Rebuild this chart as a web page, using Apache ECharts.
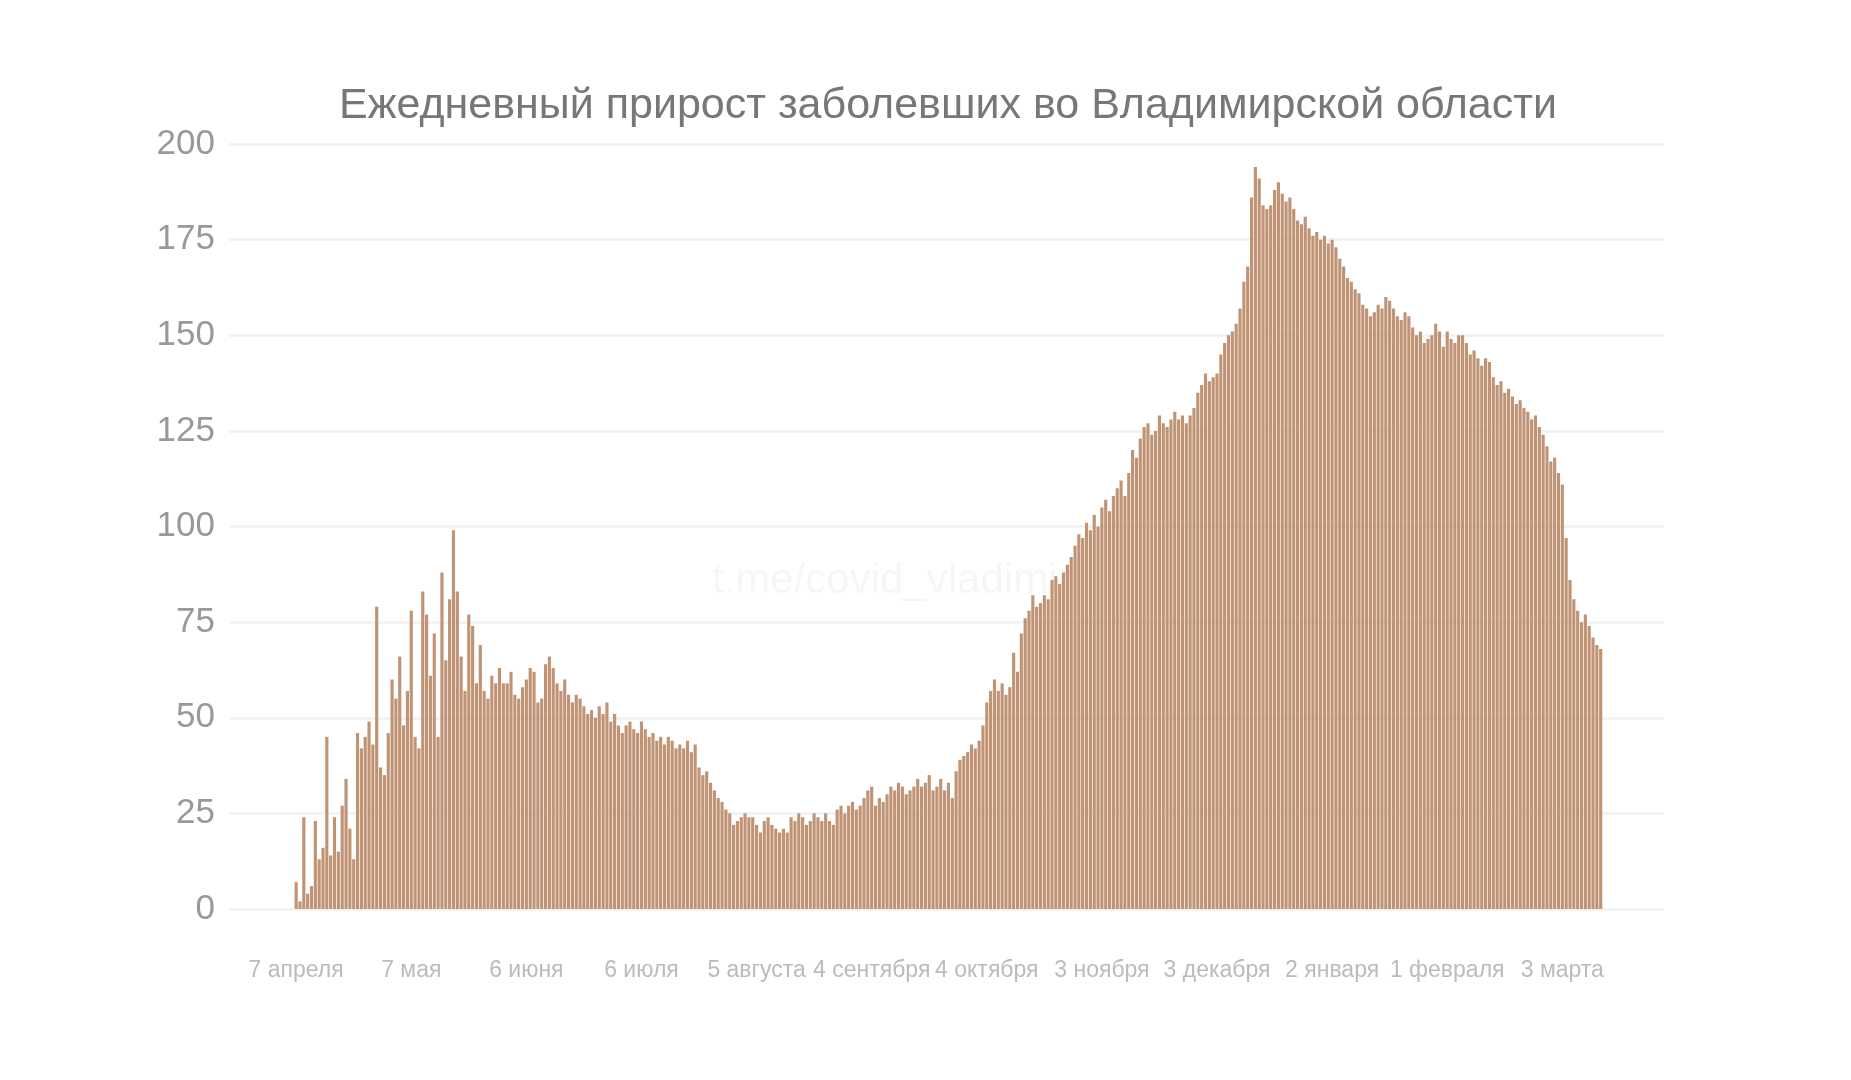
<!DOCTYPE html>
<html>
<head>
<meta charset="utf-8">
<script src="https://cdn.jsdelivr.net/npm/echarts@6/dist/echarts.min.js"></script>
<style>html,body{margin:0;padding:0;background:#fff}#main{width:1851px;height:1080px}</style>
</head>
<body>
<div id="main"></div>
<script>
// ежедневный прирост, с 7 апреля
var values = [
  7, 2, 24, 4, 6, 23, 13, 16, 45, 14, 24, 15, 27, 34, 21, 13, 46, 42, 45, 49,
  43, 79, 37, 35, 46, 60, 55, 66, 48, 57, 78, 45, 42, 83, 77, 61, 72, 45, 88, 65,
  81, 99, 83, 66, 57, 77, 74, 59, 69, 57, 55, 61, 59, 63, 59, 59, 62, 56, 55, 58,
  60, 63, 62, 54, 55, 64, 66, 63, 59, 57, 60, 56, 54, 56, 55, 53, 51, 52, 50, 53,
  51, 54, 49, 51, 48, 46, 48, 49, 47, 46, 49, 47, 45, 46, 44, 45, 43, 45, 44, 42,
  43, 42, 44, 41, 43, 37, 35, 36, 33, 31, 29, 28, 26, 25, 22,
  23, 24, 25, 24, 24, 22, 20, 23, 24, 22, 21, 20, 21, 20, 24, 23, 25, 24, 22, 23,
  25, 24, 23, 25, 23, 22, 26, 27, 25, 27, 28, 26, 27, 29, 31, 32, 27, 29, 28, 30,
  32, 31, 33, 32, 30, 31, 32, 34, 32, 33, 35, 31, 32, 34, 31, 33, 29, 36, 39, 40,
  41, 43, 42, 44, 48, 54, 57, 60, 57, 59, 56, 58, 67, 62, 72, 76, 78, 82, 79, 80,
  82, 81, 86, 87, 85, 88, 90, 92, 95, 98, 97, 101, 99, 103, 100, 105, 107, 104,
  108, 110, 112, 108, 114, 120, 118, 123, 126, 127, 124, 125, 129, 127, 126, 128, 130, 128, 129, 127,
  129, 131, 135, 137, 140, 138, 139, 140, 145, 148, 150, 151, 153, 157, 164, 168, 186, 194, 191, 184,
  183, 184, 188, 190, 187, 185, 186, 183, 180, 179, 181, 178, 176, 177, 175, 176, 174, 175, 173, 170,
  168, 165, 164, 162, 161, 158, 157, 155, 156, 158, 157, 160, 159, 157, 155, 154, 156, 155, 152, 150,
  151, 148, 149, 150, 153, 151, 147, 151, 149, 148, 150, 150, 148, 145, 146, 144, 142, 144, 143, 139,
  137, 138, 135, 136, 134, 132, 133, 131, 130, 128, 129, 126, 124, 121, 117, 118, 114, 111, 97, 86,
  81, 78, 75, 77, 74, 71, 69, 68
];
var startDate = new Date(2020, 3, 7);
var months = ['января', 'февраля', 'марта', 'апреля', 'мая', 'июня', 'июля', 'августа',
  'сентября', 'октября', 'ноября', 'декабря'];
var yTicks = [0, 25, 50, 75, 100, 125, 150, 175, 200];
var padBefore = 17, padAfter = 16;

var days = [];
for (var i = 0; i < values.length; i++) {
  var d = new Date(startDate.getTime());
  d.setDate(d.getDate() + i);
  days.push(d.getDate() + ' ' + months[d.getMonth()]);
}
var cats = [], data = [];
for (var i = 0; i < padBefore; i++) { cats.push(''); data.push('-'); }
for (var i = 0; i < values.length; i++) { cats.push(days[i]); data.push(values[i]); }
for (var i = 0; i < padAfter; i++) { cats.push(''); data.push('-'); }

var chart = echarts.init(document.getElementById('main'));
chart.setOption({
  animation: false,
  title: {
    text: 'Ежедневный прирост заболевших во Владимирской области',
    left: 943, textAlign: 'center', top: 80,
    textStyle: { fontFamily: 'Liberation Sans', fontSize: 43, fontWeight: 'normal', color: '#777' }
  },
  graphic: [{
    type: 'text', left: 712, top: 560, z: -1,
    style: { text: 't.me/covid_vladimir', fontFamily: 'Liberation Sans', fontSize: 42, fill: 'rgba(0,0,0,0.035)' }
  }],
  grid: { left: 229, right: 187, top: 144, bottom: 171 },
  xAxis: {
    type: 'category', data: cats,
    axisLine: { show: false }, axisTick: { show: false },
    axisLabel: {
      interval: function (idx) { return idx >= padBefore && (idx - padBefore) % 30 === 0 && cats[idx] !== ''; },
      color: '#bbb', fontSize: 23, fontFamily: 'Liberation Sans', margin: 50
    }
  },
  yAxis: {
    type: 'value', min: yTicks[0], max: yTicks[yTicks.length - 1], interval: 25,
    axisLine: { show: false }, axisTick: { show: false },
    axisLabel: { color: '#999', fontSize: 35, fontFamily: 'Liberation Sans', margin: 14 },
    splitLine: { lineStyle: { color: '#f3f3f3', width: 3 } }
  },
  series: [{
    type: 'bar', data: data, barCategoryGap: '18%',
    itemStyle: { color: '#bf9374' }
  }]
});
</script>
</body>
</html>
